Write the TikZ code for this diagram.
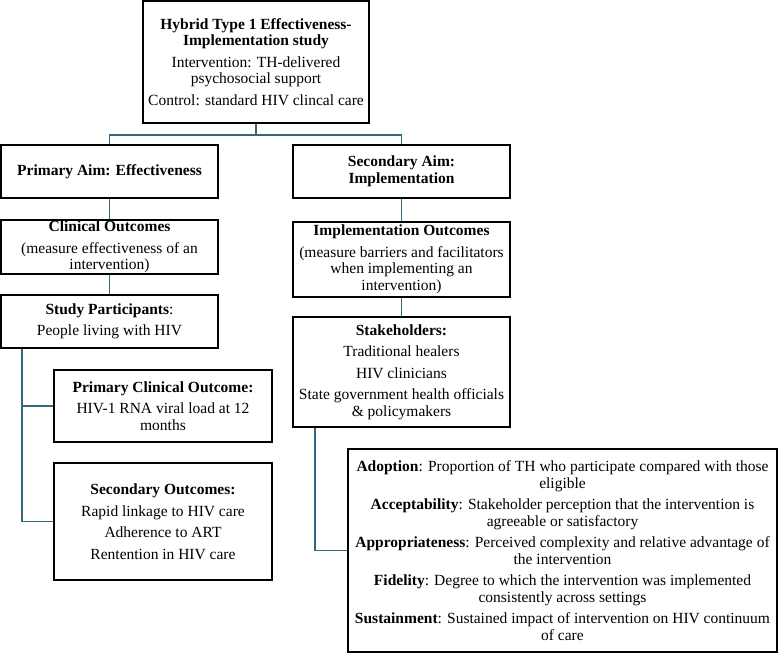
\documentclass[tikz,border=0pt]{standalone}
\usepackage{fontspec}
\setmainfont{Liberation Serif}
\definecolor{bleucanard}{RGB}{52,104,122}
\begin{document}
\begin{tikzpicture}[x=1pt,y=-1pt]
		% Styles (MODIFIABLES)
		\tikzstyle{boite}=[draw,line width=1.6pt,fill=white,align=center,inner sep=0pt,font=\fontsize{15.5}{16.5}\selectfont]
		\tikzstyle{lien}=[-,draw=bleucanard,line width=1.6pt]
		% Dimensions (MODIFIABLES)
		\def\Ecart{5pt}
		\def\LargeurG{217pt}
		\def\ColG{109.5}
		\def\ColD{401.5}
		\useasboundingbox (0,0) rectangle (779,653);
		% Noeuds
		\node[boite,minimum width=226pt,minimum height=122pt] (Etude) at (256,62) {\textbf{Hybrid Type 1 Effectiveness-}\\\textbf{Implementation study}\\[\Ecart]Intervention: TH-delivered\\psychosocial support\\[\Ecart]Control: standard HIV clincal care};
		\node[boite,minimum width=\LargeurG,minimum height=53pt] (ButP) at (\ColG,171.5) {\textbf{Primary Aim: Effectiveness}};
		\node[boite,minimum width=\LargeurG,minimum height=53pt] (ButS) at (\ColD,171.5) {\textbf{Secondary Aim:}\\\textbf{Implementation}};
		\node[boite,minimum width=\LargeurG,minimum height=54pt] (ResC) at (\ColG,247) {\textbf{Clinical Outcomes}\\[\Ecart](measure effectiveness of an\\intervention)};
		\node[boite,minimum width=\LargeurG,minimum height=75pt] (ResI) at (\ColD,259.5) {\textbf{Implementation Outcomes}\\[\Ecart](measure barriers and facilitators\\when implementing an\\intervention)};
		\node[boite,minimum width=\LargeurG,minimum height=53pt] (Part) at (\ColG,321.5) {\textbf{Study Participants}:\\[\Ecart]People living with HIV};
		\node[boite,minimum width=\LargeurG,minimum height=110pt] (Acteurs) at (\ColD,372) {\textbf{Stakeholders:}\\[\Ecart]Traditional healers\\[\Ecart]HIV clinicians\\[\Ecart]State government health officials\\\& policymakers};
		\node[boite,minimum width=218pt,minimum height=72pt] (ResPC) at (163,406) {\textbf{Primary Clinical Outcome:}\\[\Ecart]HIV-1 RNA viral load at 12\\months};
		\node[boite,minimum width=218pt,minimum height=117pt] (ResS) at (163,521.5) {\textbf{Secondary Outcomes:}\\[\Ecart]Rapid linkage to HIV care\\[\Ecart]Adherence to ART\\[\Ecart]Rentention in HIV care};
		\node[boite,minimum width=429pt,minimum height=203pt] (ResImpl) at (562.5,550.5) {\textbf{Adoption}: Proportion of TH who participate compared with those\\eligible\\[\Ecart]\textbf{Acceptability}: Stakeholder perception that the intervention is\\agreeable or satisfactory\\[\Ecart]\textbf{Appropriateness}: Perceived complexity and relative advantage of\\the intervention\\[\Ecart]\textbf{Fidelity}: Degree to which the intervention was implemented\\consistently across settings\\[\Ecart]\textbf{Sustainment}: Sustained impact of intervention on HIV continuum\\of care};
		\coordinate (epineG) at ([xshift=22pt]Part.south west);
		\coordinate (epineD) at ([xshift=23pt]Acteurs.south west);
		
		% Arcs
		\draw[lien] (Etude.south) -- ++(0,11) -| (ButP.north);
		\draw[lien] (Etude.south) -- ++(0,11) -| (ButS.north);
		\draw[lien] (ButP) -- (ResC);
		\draw[lien] (ResC) -- (Part);
		\draw[lien] (ButS) -- (ResI);
		\draw[lien] (ResI) -- (Acteurs);
		\draw[lien] (epineG) |- (ResPC.west);
		\draw[lien] (epineG) |- (ResS.west);
		\draw[lien] (epineD) |- (ResImpl.west);
		
\end{tikzpicture}
\end{document}
